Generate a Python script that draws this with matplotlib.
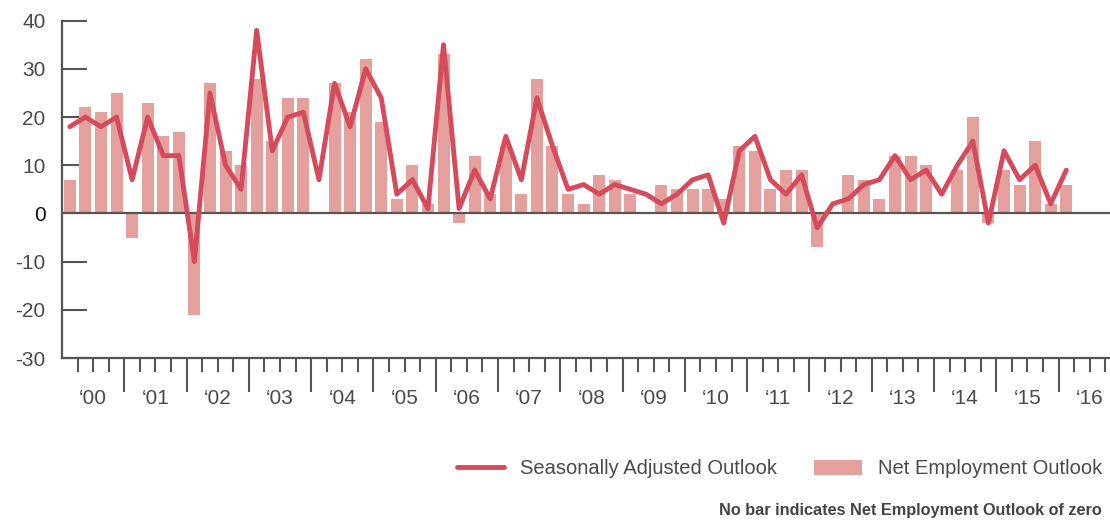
"""
Net Employment Outlook chart, quarterly 2000-2016.
Bars: unadjusted outlook, line: seasonally adjusted outlook.
"""

import matplotlib
matplotlib.use('Agg')
import matplotlib.pyplot as plt
import matplotlib.transforms as mtransforms

# quarterly values, 2000 Q1 .. 2016 Q1
net_outlook = [
    7, 22, 21, 25,      # 2000
    -5, 23, 16, 17,     # 2001
    -21, 27, 13, 10,    # 2002
    28, 15, 24, 24,     # 2003
    0, 27, 21, 32,      # 2004
    19, 3, 10, 2,       # 2005
    33, -2, 12, 4,      # 2006
    14, 4, 28, 14,      # 2007
    4, 2, 8, 7,         # 2008
    4, 0, 6, 5,         # 2009
    5, 5, 3, 14,        # 2010
    13, 5, 9, 9,        # 2011
    -7, 0, 8, 7,        # 2012
    3, 12, 12, 10,      # 2013
    0, 9, 20, -2,       # 2014
    9, 6, 15, 2,        # 2015
    6,                  # 2016
]
seasonally_adjusted = [
    18, 20, 18, 20,
    7, 20, 12, 12,
    -10, 25, 10, 5,
    38, 13, 20, 21,
    7, 27, 18, 30,
    24, 4, 7, 1,
    35, 1, 9, 3,
    16, 7, 24, 14,
    5, 6, 4, 6,
    5, 4, 2, 4,
    7, 8, -2, 13,
    16, 7, 4, 8,
    -3, 2, 3, 6,
    7, 12, 7, 9,
    4, 10, 15, -2,
    13, 7, 10, 2,
    9,
]
year_labels = ['\u2018%02d' % y for y in range(0, 17)]
y_ticks = [-30, -20, -10, 0, 10, 20, 30, 40]

LINE_COLOR = '#d64b5b'
BAR_COLOR = '#e4a09d'
AXIS_COLOR = '#555555'
TEXT_COLOR = '#4a4a4a'

plt.rcParams['font.family'] = ['Liberation Sans', 'DejaVu Sans']

fig = plt.figure(figsize=(11.1, 5.2), dpi=100)
ax = fig.add_axes([0.0559, 0.3115, 0.944, 0.6487])

quarters = list(range(len(net_outlook)))
bars = ax.bar(quarters, net_outlook, width=0.77, color=BAR_COLOR, zorder=2)
ax.axhline(0, color=AXIS_COLOR, linewidth=1.6, zorder=3)
line, = ax.plot(quarters, seasonally_adjusted, color=LINE_COLOR, linewidth=3.5,
                solid_joinstyle='round', solid_capstyle='round', zorder=4)

ax.set_xlim(-0.5, 66.8)
ax.set_ylim(-30, 40)

for side in ('top', 'right'):
    ax.spines[side].set_visible(False)
for side in ('left', 'bottom'):
    ax.spines[side].set_color(AXIS_COLOR)
    ax.spines[side].set_linewidth(1.6)

# y axis: ticks pointing into the plot
ax.set_yticks(y_ticks)
ax.set_yticklabels([str(v) for v in y_ticks])
ax.tick_params(axis='y', direction='in', length=18, width=1.5, color=AXIS_COLOR,
               labelsize=15, labelcolor=TEXT_COLOR, pad=12)
for lbl in ax.get_yticklabels():
    if lbl.get_text() == '0':
        lbl.set_color('#111111')

# x axis: long ticks at year boundaries, short ticks between quarters
n_years = len(year_labels)
major = [4 * k + 3.5 for k in range(n_years - 1)]
minor = [i + 0.5 for i in range(67) if (i + 0.5) not in major]
ax.set_xticks(major)
ax.set_xticks(minor, minor=True)
ax.set_xticklabels([])
ax.tick_params(axis='x', which='major', direction='out', length=24.5, width=1.5,
               color=AXIS_COLOR)
ax.tick_params(axis='x', which='minor', direction='out', length=10, width=1.5,
               color=AXIS_COLOR)

trans = mtransforms.blended_transform_factory(ax.transData, ax.transAxes)
for k, lab in enumerate(year_labels):
    ax.text(4 * k + 1.5, -0.12, lab, transform=trans, ha='center', va='center',
            fontsize=15, color=TEXT_COLOR)

fig.legend([line, bars], ['Seasonally Adjusted Outlook', 'Net Employment Outlook'],
           loc='center right', bbox_to_anchor=(1102 / 1110, 1 - 469 / 520),
           ncol=2, frameon=False, fontsize=14.5, handlelength=2.35,
           handletextpad=0.8, columnspacing=1.85, borderpad=0, borderaxespad=0,
           labelcolor=TEXT_COLOR)

fig.text(1102 / 1110, 1 - 510 / 520, 'No bar indicates Net Employment Outlook of zero',
         ha='right', va='center', fontsize=11.7, fontweight='bold', color='#444444')

fig.savefig('out.png', dpi=100, facecolor='white')
plt.close(fig)
